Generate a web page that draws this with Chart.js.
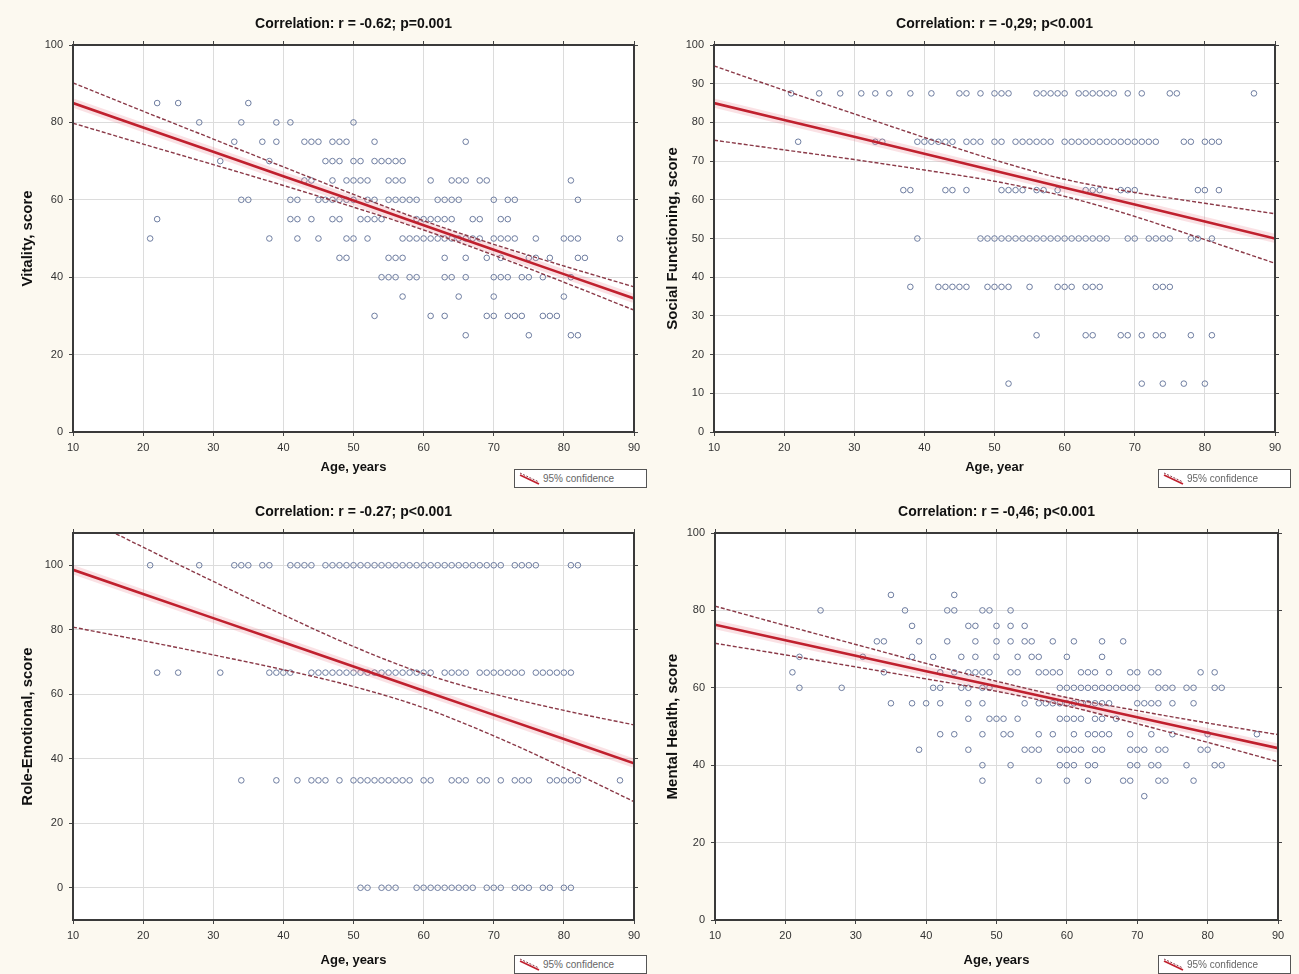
<!DOCTYPE html>
<html>
<head>
<meta charset="utf-8">
<script src="https://cdn.jsdelivr.net/npm/chart.js@4.4.1/dist/chart.umd.min.js"></script>
<style>
  html, body { margin: 0; padding: 0; background: #fcf9f0; }
  body { width: 1299px; height: 974px; position: relative; overflow: hidden; font-family: "Liberation Sans", Arial, sans-serif; }
  canvas { position: absolute; }
  .legend-box {
    position: absolute; width: 133px; height: 19px; box-sizing: border-box;
    border: 1px solid #555; background: #fff; display: flex; align-items: center;
    font-size: 10px; color: #666; padding-left: 2px;
  }
  .legend-box svg { margin-right: 2px; }
</style>
</head>
<body>
<canvas id="c1" width="650" height="487" style="left:0;top:0"></canvas>
<canvas id="c2" width="649" height="487" style="left:650px;top:0"></canvas>
<canvas id="c3" width="650" height="487" style="left:0;top:487px"></canvas>
<canvas id="c4" width="649" height="487" style="left:650px;top:487px"></canvas>

<div class="legend-box" style="left:514px;top:469px"><svg width="24" height="15"><line x1="3" y1="2" x2="22" y2="11" stroke="#8b3a48" stroke-dasharray="2,1.5"/><line x1="3" y1="4" x2="22" y2="13" stroke="#c0202e" stroke-width="1.8"/></svg><span>95% confidence</span></div>
<div class="legend-box" style="left:1158px;top:469px"><svg width="24" height="15"><line x1="3" y1="2" x2="22" y2="11" stroke="#8b3a48" stroke-dasharray="2,1.5"/><line x1="3" y1="4" x2="22" y2="13" stroke="#c0202e" stroke-width="1.8"/></svg><span>95% confidence</span></div>
<div class="legend-box" style="left:514px;top:955px"><svg width="24" height="15"><line x1="3" y1="2" x2="22" y2="11" stroke="#8b3a48" stroke-dasharray="2,1.5"/><line x1="3" y1="4" x2="22" y2="13" stroke="#c0202e" stroke-width="1.8"/></svg><span>95% confidence</span></div>
<div class="legend-box" style="left:1158px;top:955px"><svg width="24" height="15"><line x1="3" y1="2" x2="22" y2="11" stroke="#8b3a48" stroke-dasharray="2,1.5"/><line x1="3" y1="4" x2="22" y2="13" stroke="#c0202e" stroke-width="1.8"/></svg><span>95% confidence</span></div>

<script>
const fitAges = [10, 20, 30, 40, 50, 60, 70, 80, 90];
const xTicks = [10, 20, 30, 40, 50, 60, 70, 80, 90];
const yTicks20 = [0, 20, 40, 60, 80, 100];
const yTicks10 = [0, 10, 20, 30, 40, 50, 60, 70, 80, 90, 100];

// Vitality: one age list per score level
const vitScores = [85, 80, 75, 70, 65, 60, 55, 50, 45, 40, 35, 30, 25];
const vitAges = [
    [22, 25, 35],
    [28, 34, 39, 41, 50],
    [33, 37, 39, 43, 44, 45, 47, 48, 49, 53, 66],
    [31, 38, 46, 47, 48, 50, 51, 53, 54, 55, 56, 57],
    [43, 44, 47, 49, 50, 51, 52, 55, 56, 57, 61, 64, 65, 66, 68, 69, 81],
    [34, 35, 41, 42, 45, 46, 47, 48, 49, 50, 52, 53, 55, 56, 57, 58, 59, 62, 63, 64, 65, 70, 72, 73, 82],
    [22, 41, 42, 44, 47, 48, 51, 52, 53, 54, 59, 60, 61, 62, 63, 64, 67, 68, 71, 72],
    [21, 38, 42, 45, 49, 50, 52, 57, 58, 59, 60, 61, 62, 63, 64, 65, 66, 67, 68, 70, 71, 72, 73, 76, 80, 81, 82, 88],
    [48, 49, 55, 56, 57, 63, 66, 69, 71, 75, 76, 78, 82, 83],
    [54, 55, 56, 58, 59, 63, 64, 66, 70, 71, 72, 74, 75, 77, 81],
    [57, 65, 70, 80],
    [53, 61, 63, 69, 70, 72, 73, 74, 77, 78, 79],
    [66, 75, 81, 82]
];
const vitFit = [85, 78.7, 72.4, 66.1, 59.8, 53.4, 47.1, 40.8, 34.5];
const vitUpper = [90.2, 82.9, 75.7, 68.5, 61.4, 54.6, 48.5, 42.9, 37.5];
const vitLower = [79.8, 74.4, 69.1, 63.7, 58.1, 52.2, 45.7, 38.7, 31.5];

// Social functioning
const sfScores = [87.5, 75, 62.5, 50, 37.5, 25, 12.5];
const sfAges = [
    [21, 25, 28, 31, 33, 35, 38, 41, 45, 46, 48, 50, 51, 52, 56, 57, 58, 59, 60, 62, 63, 64, 65, 66, 67, 69, 71, 75, 76, 87],
    [22, 33, 34, 39, 40, 41, 42, 43, 44, 46, 47, 48, 50, 51, 53, 54, 55, 56, 57, 58, 60, 61, 62, 63, 64, 65, 66, 67, 68, 69, 70, 71, 72, 73, 77, 78, 80, 81, 82],
    [37, 38, 43, 44, 46, 51, 52, 53, 54, 56, 57, 59, 63, 64, 65, 68, 69, 70, 79, 80, 82],
    [39, 48, 49, 50, 51, 52, 53, 54, 55, 56, 57, 58, 59, 60, 61, 62, 63, 64, 65, 66, 69, 70, 72, 73, 74, 75, 78, 79, 81],
    [38, 42, 43, 44, 45, 46, 49, 50, 51, 52, 55, 59, 60, 61, 63, 64, 65, 73, 74, 75],
    [56, 63, 64, 68, 69, 71, 73, 74, 78, 81],
    [52, 71, 74, 77, 80]
];
const sfFit = [85, 80.6, 76.3, 71.9, 67.5, 63.1, 58.8, 54.4, 50];
const sfUpper = [94.6, 88.3, 82.2, 76.1, 70.3, 65.3, 61.9, 59.1, 56.4];
const sfLower = [75.4, 72.9, 70.4, 67.7, 64.8, 60.9, 55.7, 49.7, 43.6];

// Role-emotional
const reScores = [100, 66.7, 33.3, 0];
const reAges = [
    [21, 28, 33, 34, 35, 37, 38, 41, 42, 43, 44, 46, 47, 48, 49, 50, 51, 52, 53, 54, 55, 56, 57, 58, 59, 60, 61, 62, 63, 64, 65, 66, 67, 68, 69, 70, 71, 73, 74, 75, 76, 81, 82],
    [22, 25, 31, 38, 39, 40, 41, 44, 45, 46, 47, 48, 49, 50, 51, 52, 53, 54, 55, 56, 57, 58, 59, 60, 61, 63, 64, 65, 66, 68, 69, 70, 71, 72, 73, 74, 76, 77, 78, 79, 80, 81],
    [34, 39, 42, 44, 45, 46, 48, 50, 51, 52, 53, 54, 55, 56, 57, 58, 60, 61, 64, 65, 66, 68, 69, 71, 73, 74, 75, 78, 79, 80, 81, 82, 88],
    [51, 52, 54, 55, 56, 59, 60, 61, 62, 63, 64, 65, 66, 67, 69, 70, 71, 73, 74, 75, 77, 78, 80, 81]
];
const reFit = [98.6, 91.1, 83.6, 76.1, 68.6, 61.1, 53.6, 46.1, 38.6];
const reUpper = [116.4, 105.6, 95.0, 84.6, 74.8, 66.4, 60.1, 55.0, 50.5];
const reLower = [80.8, 76.6, 72.2, 67.6, 62.4, 55.8, 47.1, 37.2, 26.7];

// Mental health
const mhScores = [84, 80, 76, 72, 68, 64, 60, 56, 52, 48, 44, 40, 36, 32];
const mhAges = [
    [35, 44],
    [25, 37, 43, 44, 48, 49, 52],
    [38, 46, 47, 50, 52, 54],
    [33, 34, 39, 43, 47, 50, 52, 54, 55, 58, 61, 65, 68],
    [22, 31, 38, 41, 45, 47, 50, 53, 55, 56, 60, 65],
    [21, 34, 42, 44, 46, 47, 48, 49, 52, 53, 56, 57, 58, 59, 62, 63, 64, 66, 69, 70, 72, 73, 79, 81],
    [22, 28, 41, 42, 45, 46, 48, 49, 59, 60, 61, 62, 63, 64, 65, 66, 67, 68, 69, 70, 73, 74, 75, 77, 78, 81, 82],
    [35, 38, 40, 42, 46, 48, 54, 56, 57, 58, 59, 60, 61, 62, 63, 64, 65, 66, 70, 71, 72, 73, 75, 78],
    [46, 49, 50, 51, 53, 59, 60, 61, 62, 64, 65, 67],
    [42, 44, 48, 51, 52, 56, 58, 61, 63, 64, 65, 66, 69, 72, 75, 80, 87],
    [39, 46, 54, 55, 56, 59, 60, 61, 62, 64, 65, 69, 70, 71, 73, 74, 79, 80],
    [48, 52, 59, 60, 61, 63, 64, 69, 70, 72, 73, 77, 81, 82],
    [48, 56, 60, 63, 68, 69, 73, 74, 78],
    [71]
];
const mhFit = [76.3, 72.3, 68.3, 64.3, 60.4, 56.4, 52.4, 48.4, 44.4];
const mhUpper = [81.1, 76.1, 71.2, 66.3, 61.7, 57.5, 54.1, 50.9, 47.9];
const mhLower = [71.5, 68.5, 65.4, 62.3, 59.1, 55.3, 50.7, 45.9, 40.9];

const FONT = '"Liberation Sans", Arial, sans-serif';
const RED = '#c0202e';
const DASH = '#8b3a48';

const toPoints = (scores, ages) => scores.flatMap((s, i) => ages[i].map(a => ({ x: a, y: s })));
const toCurve = ys => fitAges.map((a, i) => ({ x: a, y: ys[i] }));
const setTicks = list => scale => { scale.ticks = list.map(v => ({ value: v })); };

// white plot area and dark frame, like the original graphs
const plotFrame = {
    id: 'plotFrame',
    beforeDraw(chart) {
        const { ctx, chartArea: a } = chart;
        ctx.save();
        ctx.fillStyle = '#ffffff';
        ctx.fillRect(a.left, a.top, a.right - a.left, a.bottom - a.top);
        ctx.restore();
    },
    afterDraw(chart) {
        const { ctx, chartArea: a } = chart;
        ctx.save();
        ctx.strokeStyle = '#3a3a3a';
        ctx.lineWidth = 2;
        ctx.strokeRect(a.left, a.top, a.right - a.left, a.bottom - a.top);
        ctx.restore();
    }
};

const panels = [
    { id: 'c1', title: 'Correlation: r = -0.62; p=0.001', yTitle: 'Vitality, score', xTitle: 'Age, years',
      scores: vitScores, ages: vitAges, fit: vitFit, upper: vitUpper, lower: vitLower,
      yMin: 0, yMax: 100, yTicks: yTicks20, box: [73, 16, 45, 55], pads: [19, 16, 12] },
    { id: 'c2', title: 'Correlation: r = -0,29; p<0.001', yTitle: 'Social Functioning, score', xTitle: 'Age, year',
      scores: sfScores, ages: sfAges, fit: sfFit, upper: sfUpper, lower: sfLower,
      yMin: 0, yMax: 100, yTicks: yTicks10, box: [64, 24, 45, 55], pads: [14, 16, 12] },
    { id: 'c3', title: 'Correlation: r = -0.27; p<0.001', yTitle: 'Role-Emotional, score', xTitle: 'Age, years',
      scores: reScores, ages: reAges, fit: reFit, upper: reUpper, lower: reLower,
      yMin: -10, yMax: 110, yTicks: yTicks20, box: [73, 16, 46, 54], pads: [19, 17, 6] },
    { id: 'c4', title: 'Correlation: r = -0,46; p<0.001', yTitle: 'Mental Health, score', xTitle: 'Age, years',
      scores: mhScores, ages: mhAges, fit: mhFit, upper: mhUpper, lower: mhLower,
      yMin: 0, yMax: 100, yTicks: yTicks20, box: [65, 21, 46, 54], pads: [14, 17, 6] }
];

const buildPanel = p => {
    const [left, right, top, bottom] = p.box;
    const [yTitlePad, titlePad, xTitlePad] = p.pads;
    const tickFont = { family: FONT, size: 11 };
    const grid = { color: '#dcdcdc', tickLength: 4, tickColor: '#444' };
    const edgeGrid = { drawOnChartArea: false, tickLength: 4, tickColor: '#444' };

    new Chart(document.getElementById(p.id), {
        type: 'scatter',
        data: {
            datasets: [{
                data: toCurve(p.fit),
                showLine: true, borderColor: RED, borderWidth: 2.6, pointRadius: 0
            }, {
                data: toCurve(p.upper),
                showLine: true, borderColor: DASH, borderWidth: 1.4, borderDash: [4, 2],
                pointRadius: 0, tension: 0.4, cubicInterpolationMode: 'monotone'
            }, {
                data: toCurve(p.lower),
                showLine: true, borderColor: DASH, borderWidth: 1.4, borderDash: [4, 2],
                pointRadius: 0, tension: 0.4, cubicInterpolationMode: 'monotone'
            }, {
                data: toCurve(p.fit),
                showLine: true, borderColor: 'rgba(232,120,132,0.22)', borderWidth: 9, pointRadius: 0
            }, {
                data: toPoints(p.scores, p.ages),
                pointRadius: 2.8, borderColor: '#5f6f96', borderWidth: 0.9,
                backgroundColor: 'rgba(0,0,0,0)'
            }]
        },
        options: {
            responsive: false,
            animation: false,
            layout: { padding: 0 },
            plugins: {
                legend: { display: false },
                tooltip: { enabled: false }
            },
            scales: {
                x: {
                    type: 'linear', position: 'bottom', min: 10, max: 90,
                    afterBuildTicks: setTicks(xTicks),
                    afterFit: s => { s.height = bottom; },
                    ticks: { font: tickFont, color: '#333', padding: 5 },
                    grid, border: { display: false },
                    title: { display: true, text: p.xTitle, color: '#111',
                        font: { family: FONT, size: 13, weight: 'bold' }, padding: { top: 0, bottom: xTitlePad } }
                },
                xTop: {
                    type: 'linear', position: 'top', min: 10, max: 90,
                    afterBuildTicks: setTicks(xTicks),
                    afterFit: s => { s.height = top; },
                    ticks: { display: false },
                    grid: edgeGrid, border: { display: false },
                    title: { display: true, text: p.title, color: '#111',
                        font: { family: FONT, size: 14, weight: 'bold' }, padding: { top: titlePad, bottom: 0 } }
                },
                y: {
                    type: 'linear', position: 'left', min: p.yMin, max: p.yMax,
                    afterBuildTicks: setTicks(p.yTicks),
                    afterFit: s => { s.width = left; },
                    ticks: { font: tickFont, color: '#333', padding: 6 },
                    grid, border: { display: false },
                    title: { display: true, text: p.yTitle, color: '#111',
                        font: { family: FONT, size: 15, weight: 'bold' }, padding: { top: yTitlePad, bottom: 0 } }
                },
                yRight: {
                    type: 'linear', position: 'right', min: p.yMin, max: p.yMax,
                    afterBuildTicks: setTicks(p.yTicks),
                    afterFit: s => { s.width = right; },
                    ticks: { display: false },
                    grid: edgeGrid, border: { display: false }
                }
            }
        },
        plugins: [plotFrame]
    });
};

panels.forEach(buildPanel);
</script>
</body>
</html>
